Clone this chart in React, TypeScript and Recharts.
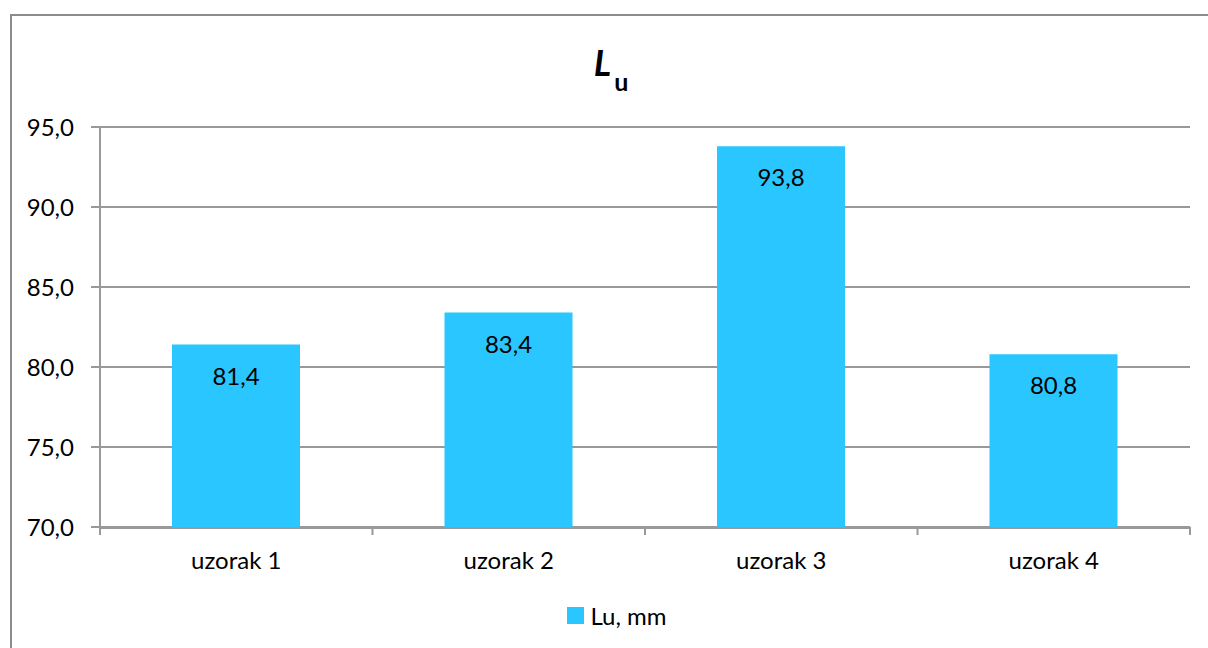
import React from "react";
import { BarChart, Bar, XAxis, YAxis, CartesianGrid, LabelList } from "recharts";

const categories = ["uzorak 1", "uzorak 2", "uzorak 3", "uzorak 4"];
const values = [81.4, 83.4, 93.8, 80.8];
const yTicks = [70, 75, 80, 85, 90, 95];
const boundaryTicks = [0, 1, 2, 3, 4];
const seriesName = "Lu, mm";

const data = categories.map((c, i) => ({ name: c, pos: i + 0.5, value: values[i] }));

const FONT = "Lato, 'Open Sans', sans-serif";
const BAR_COLOR = "#29C6FF";
const fmt = (v: number) => v.toFixed(1).replace(".", ",");
const EmptyTick = () => <g />;

export default function App() {
  return (
    <div style={{ position: "absolute", left: 0, top: 0, width: 1208, height: 648, background: "#fff", overflow: "hidden" }}>
      <div style={{ position: "absolute", left: 10, top: 14, width: 1220, height: 660, border: "2px solid #8c8c8c", boxSizing: "border-box" }} />
      <div style={{ position: "absolute", left: 7, top: 40, width: 1208, textAlign: "center", fontFamily: FONT, color: "#000", fontWeight: 700 }}>
        <span style={{ fontStyle: "italic", fontSize: 36 }}>L</span>
        <span style={{ fontSize: 25, position: "relative", top: 15, marginLeft: 3 }}>u</span>
      </div>
      <div style={{ position: "absolute", left: 0, top: 0 }}>
        <BarChart width={1208} height={648} data={data} margin={{ top: 127, right: 18, bottom: 81, left: 0 }} barSize={128}>
          <CartesianGrid vertical={false} stroke="#999" strokeWidth={2} xAxisId="cat" />
          <XAxis
            xAxisId="b"
            dataKey="pos"
            type="number"
            domain={[0, 4]}
            allowDataOverflow
            ticks={boundaryTicks}
            interval={0}
            height={1}
            tick={EmptyTick}
            tickSize={8}
            tickLine={{ stroke: "#999", strokeWidth: 2 }}
            axisLine={false}
          />
          <XAxis
            dataKey="name"
            xAxisId="cat"
            height={39}
            tickLine={false}
            axisLine={{ stroke: "#999", strokeWidth: 2 }}
            tick={{ fill: "#000", fontSize: 24, fontFamily: FONT }}
            tickMargin={18}
          />
          <YAxis
            width={100}
            domain={[70, 95]}
            ticks={yTicks}
            allowDataOverflow
            tickFormatter={fmt}
            tickSize={9}
            tickMargin={17}
            tickLine={{ stroke: "#999", strokeWidth: 2 }}
            axisLine={{ stroke: "#999", strokeWidth: 2 }}
            tick={{ fill: "#000", fontSize: 24, fontFamily: FONT }}
          />
          <Bar dataKey="value" xAxisId="cat" name={seriesName} fill={BAR_COLOR} isAnimationActive={false}>
            <LabelList dataKey="value" position="insideTop" offset={23} formatter={(v: any) => fmt(Number(v))} style={{ fill: "#000", fontSize: 24, fontFamily: FONT }} />
          </Bar>
        </BarChart>
      </div>
      <div style={{ position: "absolute", left: 13, top: 601, width: 1208, display: "flex", justifyContent: "center", alignItems: "center", fontFamily: FONT, fontSize: 24, color: "#000" }}>
        <span style={{ display: "inline-block", width: 17, height: 17, background: BAR_COLOR, marginRight: 6 }} />
        <span>{seriesName}</span>
      </div>
    </div>
  );
}
